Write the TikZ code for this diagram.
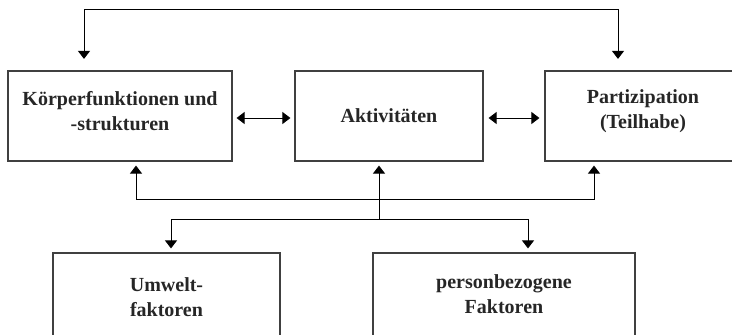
\documentclass[tikz,border=0pt]{standalone}
\usepackage{fontspec}
\setmainfont{Liberation Serif}
\usetikzlibrary{arrows.meta}
\begin{document}
\begin{tikzpicture}[x=1pt,y=-1pt,
  box/.style={draw=black!75, line width=1.2pt, inner sep=0pt, minimum height=90pt},
  lbl/.style={font=\fontsize{20}{24}\selectfont\bfseries, text=black!85, anchor=base, inner sep=0pt},
  tip/.style={Triangle[width=12pt,length=8pt]},
  conn/.style={line width=0.9pt, -{Triangle[width=12pt,length=8pt]}},
  dconn/.style={line width=0.9pt, {Triangle[width=12pt,length=8pt]}-{Triangle[width=12pt,length=8pt]}}]
\useasboundingbox (0,0) rectangle (732,335);
\clip (0,0) rectangle (732,335);
% boxes
\node[box, minimum width=224pt] (b1) at (120,116) {};
\node[box, minimum width=188pt] (b2) at (389,116) {};
\node[box, minimum width=196pt] (b3) at (643,116) {};
\node[box, minimum width=227pt, minimum height=92pt] (b4) at (166.5,299) {};
\node[box, minimum width=262pt, minimum height=92pt] (b5) at (504,299) {};
% labels
\node[lbl] (t1a) at (120,105) {Körperfunktionen und};
\node[lbl] (t1b) at (120,130) {-strukturen};
\node[lbl] (t2) at (389,122) {Aktivitäten};
\node[lbl] (t3a) at (643,103) {Partizipation};
\node[lbl] (t3b) at (643,128) {(Teilhabe)};
\node[lbl] (t4a) at (166.5,291) {Umwelt-};
\node[lbl] (t4b) at (166.5,316) {faktoren};
\node[lbl] (t5a) at (504,288) {personbezogene};
\node[lbl] (t5b) at (504,313) {Faktoren};
% top loop
\coordinate (ka) at (84,9);
\coordinate (kb) at (618,9);
\draw[dconn, shorten <=11.5pt, shorten >=11.5pt] (ka |- b1.north) -- (ka) -- (kb) -- (kb |- b3.north);
% horizontal double arrows
\draw[dconn, shorten <=4pt, shorten >=4pt] ([yshift=-2pt]b1.east) -- ([yshift=-2pt]b2.west);
\draw[dconn, shorten <=5pt, shorten >=5pt] ([yshift=-2pt]b2.east) -- ([yshift=-2pt]b3.west);
% lower network
\coordinate (h1) at (136,199);
\coordinate (h2) at (594,199);
\draw[dconn, shorten <=4pt, shorten >=4pt] (h1 |- b1.south) -- (h1) -- (h2) -- (h2 |- b3.south);
\coordinate (v) at (379,219);
\draw[conn, shorten >=4pt] (v) -- (v |- b2.south);
\coordinate (l1) at (171,219);
\coordinate (l2) at (528,219);
\draw[dconn, shorten <=4pt, shorten >=4pt] (l1 |- b4.north) -- (l1) -- (l2) -- (l2 |- b5.north);
\end{tikzpicture}
\end{document}
